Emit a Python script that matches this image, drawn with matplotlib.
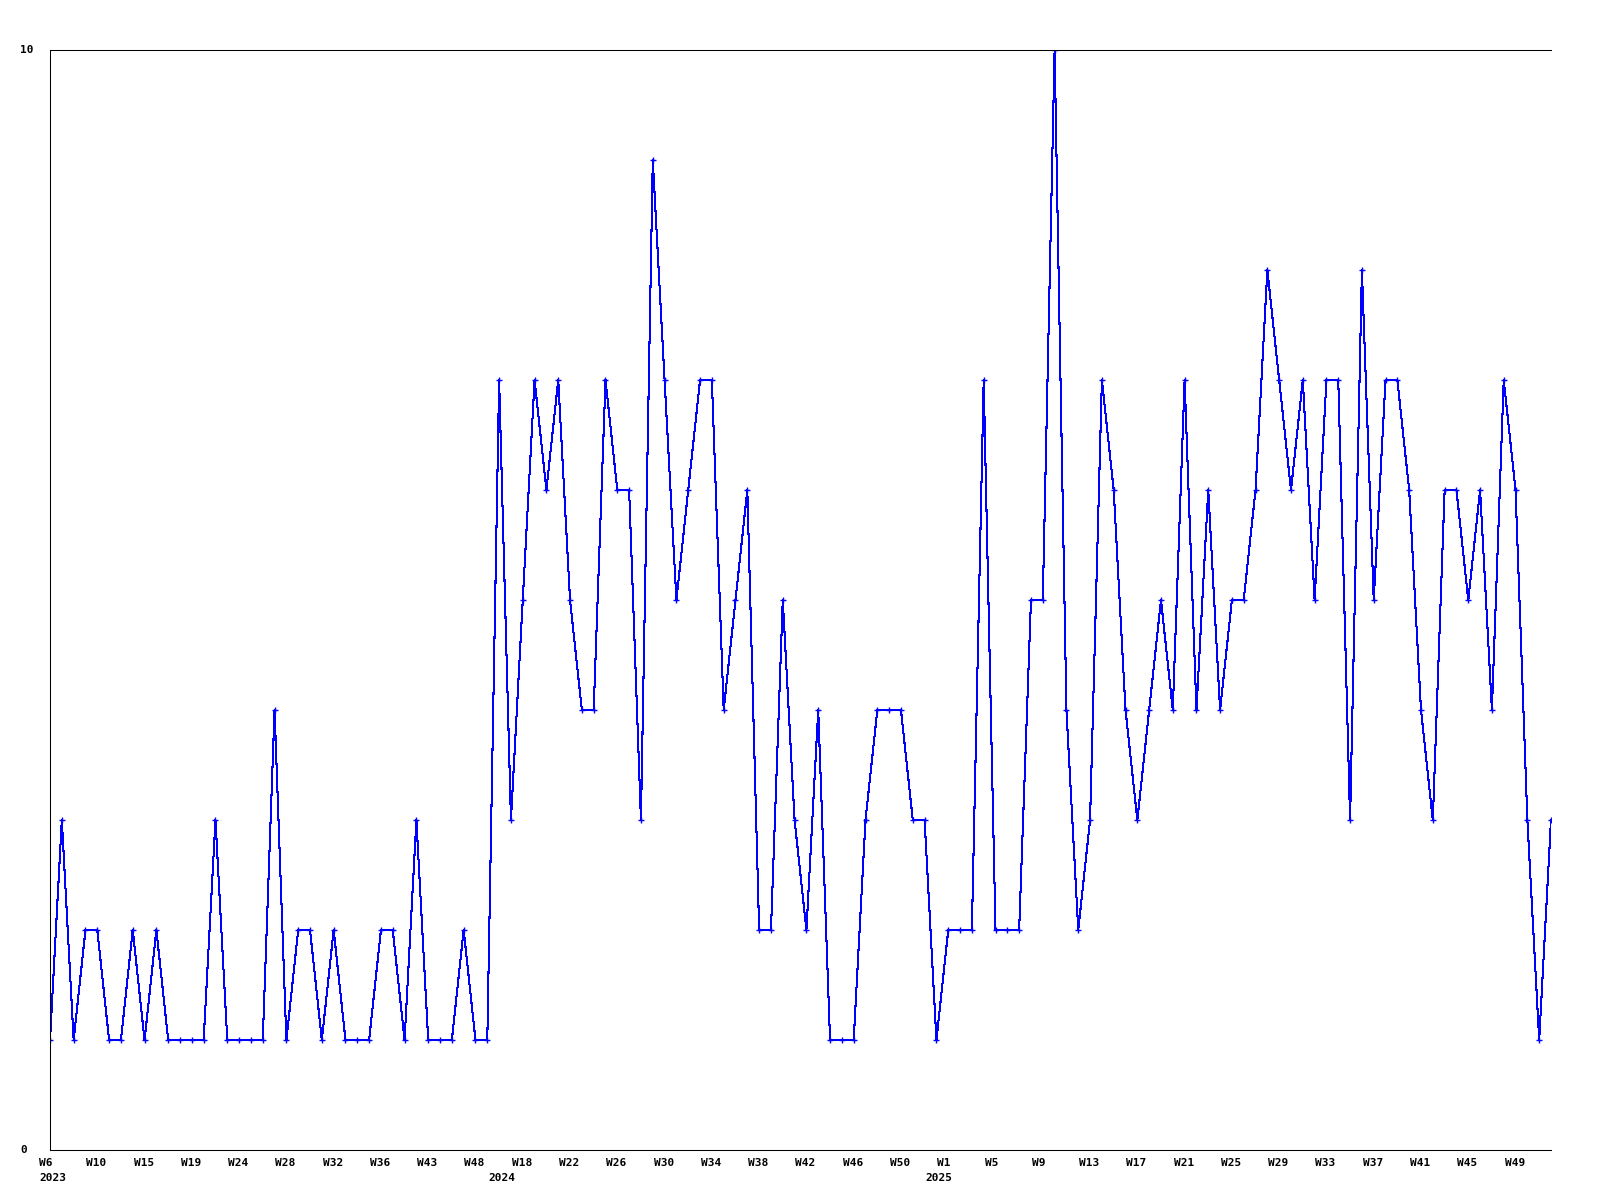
import matplotlib
matplotlib.use('Agg')
import matplotlib.pyplot as plt
import matplotlib.transforms as mtransforms

# weekly counts, one point per week present in the data
values = [1, 3, 1, 2, 2, 1, 1, 2, 1, 2, 1, 1, 1, 1, 3, 1, 1, 1, 1, 4,
          1, 2, 2, 1, 2, 1, 1, 1, 2, 2, 1, 3, 1, 1, 1, 2, 1, 1, 7, 3,
          5, 7, 6, 7, 5, 4, 4, 7, 6, 6, 3, 9, 7, 5, 6, 7, 7, 4, 5, 6,
          2, 2, 5, 3, 2, 4, 1, 1, 1, 3, 4, 4, 4, 3, 3, 1, 2, 2, 2, 7,
          2, 2, 2, 5, 5, 10, 4, 2, 3, 7, 6, 4, 3, 4, 5, 4, 7, 4, 6, 4,
          5, 5, 6, 8, 7, 6, 7, 5, 7, 7, 3, 8, 5, 7, 7, 6, 4, 3, 6, 6,
          5, 6, 4, 7, 6, 3, 1, 3]

# a week label on every 4th point
week_labels = ['W6', 'W10', 'W15', 'W19', 'W24', 'W28', 'W32', 'W36', 'W43', 'W48',
               'W18', 'W22', 'W26', 'W30', 'W34', 'W38', 'W42', 'W46', 'W50',
               'W1', 'W5', 'W9', 'W13', 'W17', 'W21', 'W25', 'W29', 'W33', 'W37',
               'W41', 'W45', 'W49']
label_step = 4

# year labels and the point where each year starts
years = ['2023', '2024', '2025']
year_pos = [0, 38, 75]

y_ticks = [0, 10]

x = list(range(len(values)))

fig = plt.figure(figsize=(16, 12), dpi=100)
ax = fig.add_axes([50/1600, 50/1200, 1501/1600, 1100/1200])

ax.plot(x, values, color='#0000ff', lw=0.75, marker='+', ms=5, mew=1,
        antialiased=False)

ax.set_xlim(0, len(values) - 1)
ax.set_ylim(0, 10)
ax.spines['right'].set_visible(False)
for s in ['top', 'bottom', 'left']:
    ax.spines[s].set_linewidth(0.75)
ax.set_xticks([])
ax.set_yticks([])

font = dict(family='DejaVu Sans Mono', weight='bold', size=8)

# x labels, left aligned a few pixels before the point
shift = mtransforms.ScaledTranslation(-11/100, 0, fig.dpi_scale_trans)
xtrans = mtransforms.blended_transform_factory(ax.transData, ax.transAxes) + shift
for i, lab in enumerate(week_labels):
    ax.text(i * label_step, -0.0075, lab, transform=xtrans, ha='left', va='top', **font)
for pos, yr in zip(year_pos, years):
    ax.text(pos, -0.021, yr, transform=xtrans, ha='left', va='top', **font)

# y labels at the far left
for v in y_ticks:
    fig.text(20/1600, 1 - (1150 - v * 110) / 1200, str(v), ha='left', va='center', **font)

plt.savefig('out.png', dpi=100)
